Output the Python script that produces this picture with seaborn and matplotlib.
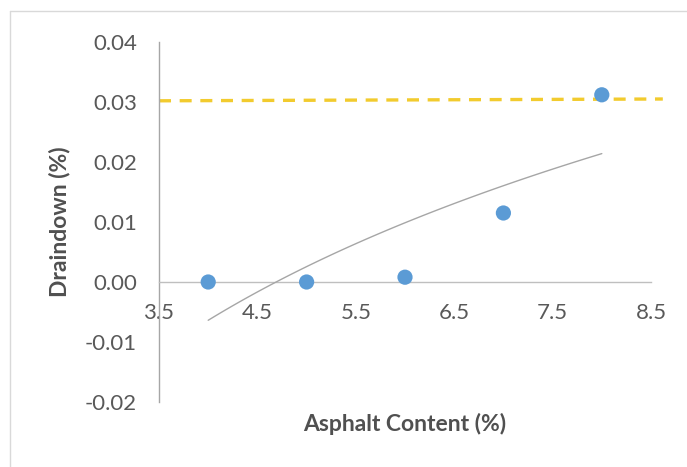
import matplotlib
matplotlib.use("Agg")
import matplotlib.pyplot as plt
from matplotlib.lines import Line2D
from matplotlib.ticker import FixedLocator, FormatStrFormatter
import seaborn as sns
import pandas as pd

# Data
asphalt_content = [4, 5, 6, 7, 8]
draindown = [0.0, 0.0, 0.0008, 0.0115, 0.0312]
limit_x = [3.5, 8.62]
limit_y = [0.0302, 0.0305]
x_ticks = [3.5, 4.5, 5.5, 6.5, 7.5, 8.5]
y_ticks = [-0.02, -0.01, 0.00, 0.01, 0.02, 0.03, 0.04]

df = pd.DataFrame({"Asphalt Content (%)": asphalt_content, "Draindown (%)": draindown})

sns.set_theme(style="white")
plt.rcParams["font.family"] = ["Lato", "DejaVu Sans"]

fig = plt.figure(figsize=(6.87, 4.67), dpi=100)
ax = fig.add_axes([159/687, 1 - 402/467, (651 - 159)/687, (402 - 42)/467])

# limit line (dashed yellow)
ax.plot(limit_x, limit_y, color="#f2cb2e", lw=2.4, dashes=(3.6, 2.6), clip_on=False, zorder=2)

# logarithmic trendline fitted from the data
sns.regplot(data=df, x="Asphalt Content (%)", y="Draindown (%)", logx=True, ci=None,
            scatter=False, ax=ax, truncate=True,
            line_kws=dict(color="#a6a6a6", lw=1.0, zorder=3))

# data points
sns.scatterplot(data=df, x="Asphalt Content (%)", y="Draindown (%)", ax=ax,
                color="#5b9bd5", s=120, edgecolor="none", zorder=4)

ax.set_xlim(3.5, 8.5)
ax.set_ylim(-0.02, 0.04)
ax.xaxis.set_major_locator(FixedLocator(x_ticks))
ax.yaxis.set_major_locator(FixedLocator(y_ticks))
ax.xaxis.set_major_formatter(FormatStrFormatter("%.1f"))
ax.yaxis.set_major_formatter(FormatStrFormatter("%.2f"))

for s in ["top", "right"]:
    ax.spines[s].set_visible(False)
ax.spines["bottom"].set_position(("data", 0))
ax.spines["bottom"].set_color("#bfbfbf")
ax.spines["left"].set_color("#a6a6a6")
ax.spines["bottom"].set_linewidth(1.0)
ax.spines["left"].set_linewidth(1.0)

ax.tick_params(axis="x", length=0, pad=15, labelsize=16, labelcolor="#595959")
ax.tick_params(axis="y", length=0, pad=16, labelsize=16, labelcolor="#595959")

ax.set_xlabel("Asphalt Content (%)", fontsize=16.5, fontweight="bold", color="#505050", labelpad=0)
ax.set_ylabel("Draindown (%)", fontsize=16.5, fontweight="bold", color="#505050")
ax.xaxis.set_label_coords(0.5, -0.03)
ax.yaxis.set_label_coords(-0.181, 0.5)

# chart border (screenshot edge)
fig.add_artist(Line2D([10/687, 10/687], [0, 1 - 11/467], transform=fig.transFigure,
                      color="#d9d9d9", lw=1.0))
fig.add_artist(Line2D([10/687, 1], [1 - 11/467, 1 - 11/467], transform=fig.transFigure,
                      color="#d9d9d9", lw=1.0))

fig.savefig("out.png", dpi=100, facecolor="white")
